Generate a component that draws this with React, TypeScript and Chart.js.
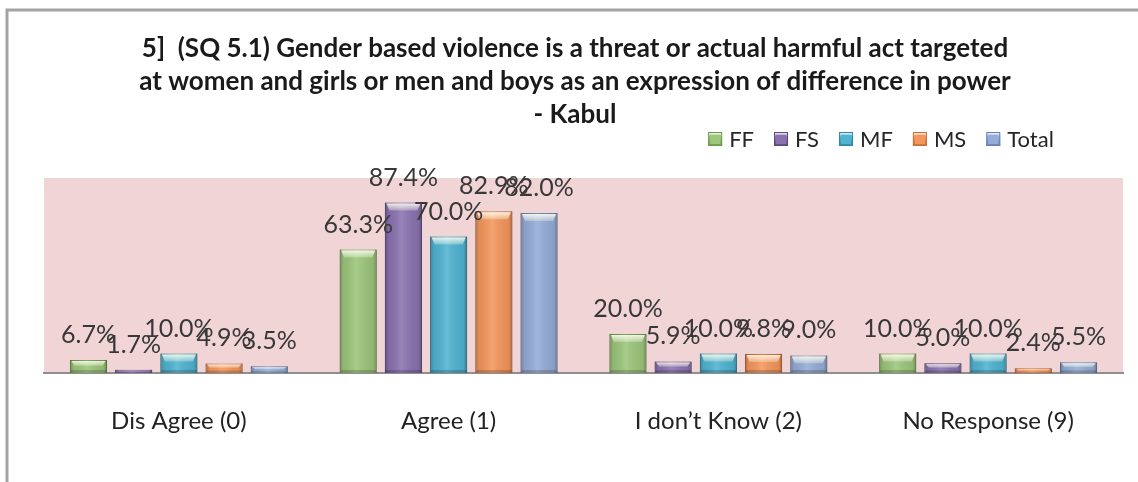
import React, { useEffect, useRef } from "react";
import { Chart, registerables } from "chart.js";

Chart.register(...registerables);

// Response categories on the x axis
const categories = ["Dis Agree (0)", "Agree (1)", "I don\u2019t Know (2)", "No Response (9)"];

// Percentages per respondent group
const ffValues = [6.7, 63.3, 20.0, 10.0];
const fsValues = [1.7, 87.4, 5.9, 5.0];
const mfValues = [10.0, 70.0, 10.0, 10.0];
const msValues = [4.9, 82.9, 9.8, 2.4];
const totalValues = [3.5, 82.0, 9.0, 5.5];

const seriesNames = ["FF", "FS", "MF", "MS", "Total"];
const seriesColors = ["#9cc67b", "#8a72b0", "#4fb3d1", "#f5965c", "#94acd6"];
const seriesBorders = ["#6f9a4e", "#5f4a85", "#2f8aa6", "#c8703a", "#6a83b2"];

const titleLines = [
  "5]  (SQ 5.1) Gender based violence is a threat or actual harmful act targeted",
  "at women and girls or men and boys as an expression of difference in power",
  "- Kabul",
];

const FONT = "Lato, 'Open Sans', sans-serif";

// Frame, pink plot background, title and legend
const decorPlugin = {
  id: "decor",
  beforeDraw(chart: any) {
    const { ctx, chartArea } = chart;
    ctx.save();
    ctx.fillStyle = "#ffffff";
    ctx.fillRect(0, 0, chart.width, chart.height);
    ctx.strokeStyle = "#a3a3a3";
    ctx.lineWidth = 3;
    ctx.beginPath();
    ctx.moveTo(7, chart.height);
    ctx.lineTo(7, 10);
    ctx.lineTo(chart.width, 10);
    ctx.stroke();
    ctx.fillStyle = "#f1d5d6";
    ctx.fillRect(chartArea.left, chartArea.top, chartArea.right - chartArea.left, chartArea.bottom - chartArea.top);
    ctx.restore();
  },
  afterDraw(chart: any) {
    const { ctx } = chart;
    ctx.save();
    ctx.fillStyle = "#1a1a1a";
    ctx.font = `bold 26px ${FONT}`;
    ctx.textAlign = "center";
    ctx.textBaseline = "alphabetic";
    const baselines = [57, 90, 123];
    titleLines.forEach((line, i) => ctx.fillText(line, 575, baselines[i]));

    // legend
    ctx.font = `22px ${FONT}`;
    const box = 14;
    const boxGap = 7;
    const itemGap = 20;
    const widths = seriesNames.map((n) => ctx.measureText(n).width);
    const total = widths.reduce((a, w) => a + box + boxGap + w, 0) + itemGap * (seriesNames.length - 1);
    let x = 881 - total / 2;
    const cy = 139;
    ctx.textAlign = "left";
    ctx.textBaseline = "middle";
    seriesNames.forEach((name, i) => {
      const g = ctx.createLinearGradient(0, cy - box / 2, 0, cy + box / 2);
      g.addColorStop(0, "#ffffff");
      g.addColorStop(0.35, seriesColors[i]);
      g.addColorStop(1, seriesBorders[i]);
      ctx.fillStyle = g;
      ctx.fillRect(x, cy - box / 2, box, box);
      ctx.fillStyle = seriesColors[i];
      ctx.fillRect(x + 2, cy - box / 2 + 3, box - 4, box - 5);
      ctx.strokeStyle = seriesBorders[i];
      ctx.lineWidth = 1;
      ctx.strokeRect(x + 0.5, cy - box / 2 + 0.5, box - 1, box - 1);
      x += box + boxGap;
      ctx.fillStyle = "#262626";
      ctx.fillText(name, x, cy + 1);
      x += widths[i] + itemGap;
    });
    ctx.restore();
  },
};

// Bevel shading on bars, then value labels
const barLookPlugin = {
  id: "barLook",
  afterDatasetsDraw(chart: any) {
    const { ctx } = chart;
    ctx.save();
    chart.data.datasets.forEach((ds: any, i: number) => {
      const meta = chart.getDatasetMeta(i);
      meta.data.forEach((bar: any) => {
        const { x, y, base, width } = bar.getProps(["x", "y", "base", "width"], true);
        const left = x - width / 2;
        const h = base - y;
        if (h <= 0) return;
        const side = ctx.createLinearGradient(left, 0, left + width, 0);
        side.addColorStop(0, "rgba(0,0,0,0.28)");
        side.addColorStop(0.1, "rgba(0,0,0,0.07)");
        side.addColorStop(0.45, "rgba(255,255,255,0.12)");
        side.addColorStop(0.9, "rgba(0,0,0,0.07)");
        side.addColorStop(1, "rgba(0,0,0,0.3)");
        ctx.fillStyle = side;
        ctx.fillRect(left, y, width, h);

        // top bevel highlight
        const hh = Math.min(8, Math.max(1.5, h * 0.45));
        const inset = Math.min(5, width * 0.12);
        const hl = ctx.createLinearGradient(0, y, 0, y + hh);
        hl.addColorStop(0, "rgba(255,255,240,0.95)");
        hl.addColorStop(1, "rgba(255,255,240,0.25)");
        ctx.fillStyle = hl;
        ctx.beginPath();
        ctx.moveTo(left + 1.5, y + 1);
        ctx.lineTo(left + width - 1.5, y + 1);
        ctx.lineTo(left + width - inset, y + hh);
        ctx.lineTo(left + inset, y + hh);
        ctx.closePath();
        ctx.fill();

        // bottom edge
        const bh = Math.min(3, h * 0.25);
        ctx.fillStyle = "rgba(0,0,0,0.18)";
        ctx.fillRect(left + 1, base - bh, width - 2, bh);
      });
    });

    ctx.fillStyle = "#383838";
    ctx.font = `25px ${FONT}`;
    ctx.textAlign = "center";
    ctx.textBaseline = "alphabetic";
    chart.data.datasets.forEach((ds: any, i: number) => {
      const meta = chart.getDatasetMeta(i);
      meta.data.forEach((bar: any, j: number) => {
        const v = ds.data[j] as number;
        ctx.fillText(`${v.toFixed(1)}%`, bar.x, bar.y - 17);
      });
    });
    ctx.restore();
  },
};

export default function App() {
  const canvasRef = useRef<HTMLCanvasElement | null>(null);

  useEffect(() => {
    document.body.style.margin = "0";
    const canvas = canvasRef.current;
    if (!canvas) return;
    const allSeries = [ffValues, fsValues, mfValues, msValues, totalValues];
    const chart = new Chart(canvas, {
      type: "bar",
      data: {
        labels: categories,
        datasets: allSeries.map((vals, i) => ({
          label: seriesNames[i],
          data: vals,
          backgroundColor: seriesColors[i],
          borderColor: seriesBorders[i],
          borderWidth: 1,
          categoryPercentage: 0.838,
          barPercentage: 0.82,
        })),
      },
      options: {
        responsive: false,
        animation: false,
        devicePixelRatio: 1,
        layout: { padding: { left: 44, right: 15, top: 178, bottom: 0 } },
        plugins: {
          legend: { display: false },
          title: { display: false },
          tooltip: { enabled: false },
        },
        scales: {
          y: { display: false, min: 0, max: 100 },
          x: {
            grid: { display: false },
            border: { display: true, color: "#8f8f8f", width: 2 },
            ticks: {
              color: "#222222",
              font: { family: FONT, size: 24 },
              padding: 26,
              maxRotation: 0,
            },
            afterFit: (scale: any) => {
              scale.height = 109;
            },
          },
        },
      },
      plugins: [decorPlugin, barLookPlugin],
    });
    return () => chart.destroy();
  }, []);

  return (
    <div style={{ position: "absolute", left: 0, top: 0, width: 1138, height: 482 }}>
      <canvas ref={canvasRef} width={1138} height={482} />
    </div>
  );
}
